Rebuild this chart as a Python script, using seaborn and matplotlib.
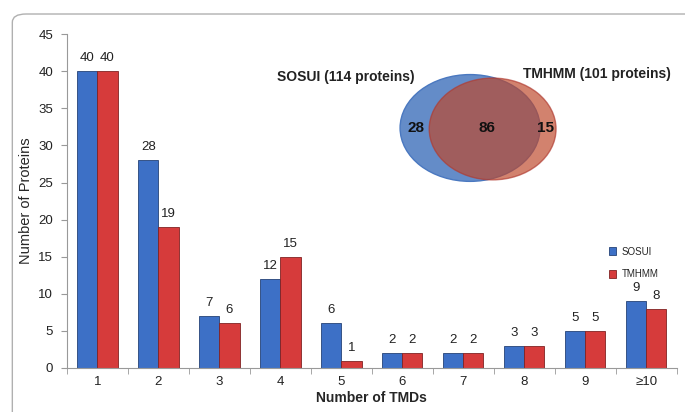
import pandas as pd
import seaborn as sns
import matplotlib.pyplot as plt
from matplotlib.patches import Ellipse, FancyBboxPatch

# Data
tmd_labels = ["1", "2", "3", "4", "5", "6", "7", "8", "9", "\u226510"]
sosui = [40, 28, 7, 12, 6, 2, 2, 3, 5, 9]
tmhmm = [40, 19, 6, 15, 1, 2, 2, 3, 5, 8]
venn_counts = [28, 86, 15]

df = pd.DataFrame({
    "TMDs": tmd_labels * 2,
    "Count": sosui + tmhmm,
    "Method": ["SOSUI"] * len(sosui) + ["TMHMM"] * len(tmhmm),
})

sns.set_style("white")
plt.rcParams["font.family"] = ["Liberation Sans", "DejaVu Sans"]

fig = plt.figure(figsize=(6.85, 4.12), dpi=100)
ax = fig.add_axes([0.0978, 0.107, 0.8902, 0.81])

# rounded frame around the chart
frame = FancyBboxPatch((0.018, -0.05), 1.2, 1.016, boxstyle="round,pad=0,rounding_size=0.02",
                       transform=fig.transFigure, facecolor="none", edgecolor="#b0b0b0",
                       linewidth=1.0, clip_on=False)
fig.patches.append(frame)

palette = {"SOSUI": "#3d70c6", "TMHMM": "#d63b3b"}
sns.barplot(data=df, x="TMDs", y="Count", hue="Method", palette=palette,
            width=0.66, gap=0, saturation=1, ax=ax)

for bar in ax.patches:
    fc = bar.get_facecolor()
    bar.set_edgecolor((fc[0] * 0.6, fc[1] * 0.6, fc[2] * 0.6, 1))
    bar.set_linewidth(0.6)

for cont in ax.containers:
    ax.bar_label(cont, padding=5, fontsize=9.5, color="#222222")

ax.set_ylim(0, 45)
ax.set_xlim(-0.5, 9.5)
ax.set_yticks(range(0, 46, 5))
ax.set_xticks(range(10))
ax.set_xticklabels(tmd_labels)
ax.tick_params(axis="both", labelsize=9.5, colors="#222222", length=0, pad=6)

# category boundary ticks on the x axis
ax.set_xticks([i - 0.5 for i in range(11)], minor=True)
ax.tick_params(axis="x", which="minor", length=4, color="#999999", direction="out", bottom=True)
ax.tick_params(axis="y", length=4, color="#999999", direction="out", left=True)

for side in ["top", "right"]:
    ax.spines[side].set_visible(False)
for side in ["left", "bottom"]:
    ax.spines[side].set_color("#999999")
    ax.spines[side].set_linewidth(0.8)

ax.set_ylabel("Number of Proteins", fontsize=10.5, labelpad=4)
ax.set_xlabel("Number of TMDs", fontsize=10, fontweight="bold", labelpad=2)

leg = ax.legend(loc="upper left", bbox_to_anchor=(0.875, 0.39), frameon=False, fontsize=7,
                handlelength=0.7, handleheight=0.9, handletextpad=0.6, labelspacing=1.3)

# Venn diagram inset
ax.add_patch(Ellipse((0.661, 0.719), 0.2295, 0.320, transform=ax.transAxes,
                     facecolor="#648cc8", edgecolor="#4a78c0", linewidth=1.0))
ax.add_patch(Ellipse((0.698, 0.716), 0.208, 0.305, transform=ax.transAxes,
                     facecolor="#bd472a", edgecolor="#b03a30", linewidth=1.0, alpha=0.68))
for xpos, val in zip([0.572, 0.689, 0.785], venn_counts):
    ax.text(xpos, 0.719, str(val), transform=ax.transAxes, ha="center", va="center",
            fontsize=11, fontweight="bold", color="#111111")
ax.text(0.457, 0.871, "SOSUI (114 proteins)", transform=ax.transAxes, ha="center",
        va="center", fontsize=10, fontweight="bold", color="#222222")
ax.text(0.869, 0.880, "TMHMM (101 proteins)", transform=ax.transAxes, ha="center",
        va="center", fontsize=10, fontweight="bold", color="#222222")

fig.savefig("out.png", dpi=100)
